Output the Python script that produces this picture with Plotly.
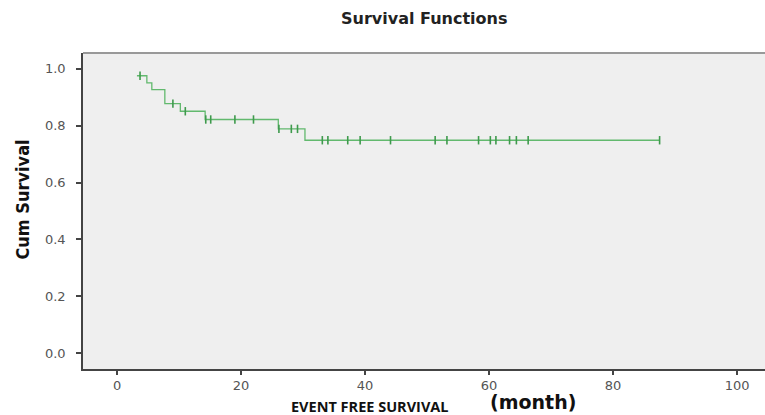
import plotly.graph_objects as go
import bisect

# Kaplan-Meier step data (months, cumulative survival)
step_times = [3.2, 4.8, 5.6, 7.7, 10.2, 14.2, 26.0, 30.3]
step_surv = [0.976, 0.951, 0.927, 0.878, 0.851, 0.822, 0.789, 0.749]
end_time = 87.5

# censored observations (months)
censor_times = [3.7, 9.0, 11.0, 14.3, 15.1, 19.0, 22.0, 26.1, 28.1, 29.1,
                33.1, 34.0, 37.2, 39.2, 44.1, 51.3, 53.2, 58.3, 60.2, 61.1,
                63.3, 64.4, 66.3, 87.5]

x_ticks = [0, 20, 40, 60, 80, 100]
y_ticks = [0.0, 0.2, 0.4, 0.6, 0.8, 1.0]
y_tick_text = ["0.0", "0.2", "0.4", "0.6", "0.8", "1.0"]

def surv_at(t):
    i = bisect.bisect_right(step_times, t) - 1
    return step_surv[max(i, 0)]

line_x = step_times + [end_time]
line_y = step_surv + [step_surv[-1]]
censor_y = [surv_at(t) for t in censor_times]

fig = go.Figure()
fig.add_trace(go.Scatter(
    x=line_x, y=line_y, mode="lines", line_shape="hv",
    line=dict(color="#62B96E", width=1.3), hoverinfo="skip", showlegend=False))
fig.add_trace(go.Scatter(
    x=censor_times, y=censor_y, mode="markers",
    marker=dict(symbol="line-ns", size=6, line=dict(color="#3E9A4C", width=1.6)),
    showlegend=False))

axis_font = dict(family="DejaVu Sans", size=13, color="#555555")
fig.update_layout(
    width=765, height=415,
    margin=dict(l=83, r=0, t=53, b=46),
    paper_bgcolor="white", plot_bgcolor="#EFEFEF",
    xaxis=dict(range=[-5.5, 104.5], tickvals=x_ticks, showgrid=False, zeroline=False,
               showline=True, linecolor="#444444", linewidth=1.5,
               ticks="outside", ticklen=4, tickwidth=1.5, tickcolor="#444444",
               tickfont=axis_font),
    yaxis=dict(range=[-0.056, 1.056], tickvals=y_ticks, ticktext=y_tick_text,
               showgrid=False, zeroline=False,
               showline=True, linecolor="#444444", linewidth=1.5,
               ticks="outside", ticklen=5, tickwidth=1.5, tickcolor="#444444",
               tickfont=axis_font, ticklabelstandoff=8),
    shapes=[dict(type="line", xref="paper", yref="paper", x0=0, x1=1, y0=1, y1=1,
                 line=dict(color="#999999", width=2))],
    annotations=[
        dict(text="<b>Survival Functions</b>", xref="paper", yref="paper",
             x=(424 - 83) / 682, y=1, yshift=35, yanchor="middle", showarrow=False,
             font=dict(family="DejaVu Sans", size=16, color="#222222")),
        dict(text="Cum Survival", xref="paper", yref="paper", textangle=-90,
             x=-0.09, y=0.5, yshift=11, xanchor="center", yanchor="middle", showarrow=False,
             font=dict(family="DejaVu Sans Condensed, Liberation Sans", size=18,
                       color="#111111", weight=600)),
        dict(text="<b>EVENT FREE SURVIVAL</b>", xref="paper", yref="paper",
             x=(370 - 83) / 682, y=0, yshift=-37, yanchor="middle", showarrow=False,
             font=dict(family="Open Sans", size=14.5, color="#111111")),
        dict(text="<b>(month)</b>", xref="paper", yref="paper",
             x=(533 - 83) / 682, y=0, yshift=-33, yanchor="middle", showarrow=False,
             font=dict(family="DejaVu Sans", size=19, color="#111111")),
    ],
)
fig.write_html("out.html")
